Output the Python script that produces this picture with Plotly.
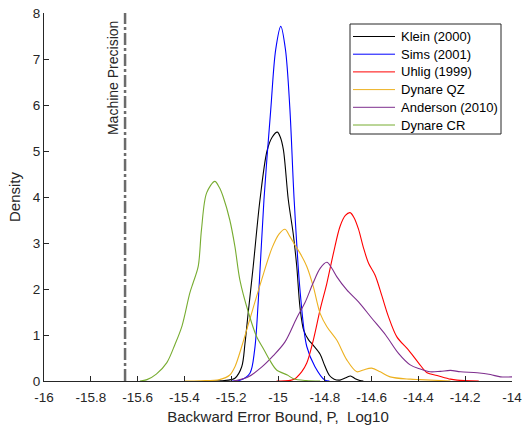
import plotly.graph_objects as go

# ---------------- data ----------------
machine_eps_log10 = -15.6536
density_range = [0, 8]

klein_x = [-15.28, -15.23, -15.20, -15.184, -15.155, -15.141, -15.127, -15.106, -15.077, -15.047,
           -15.025, -15.003, -14.99, -14.977, -14.956, -14.935, -14.92, -14.906, -14.89, -14.87,
           -14.85, -14.82, -14.80, -14.78, -14.76, -14.735, -14.71, -14.69, -14.67, -14.65, -14.635]
klein_y = [0, 0.01, 0.03, 0.06, 0.31, 0.82, 1.5, 2.49, 3.94, 5.0,
           5.3, 5.41, 5.3, 5.03, 3.94, 3.2, 2.5, 1.6, 1.1, 0.9,
           0.78, 0.58, 0.33, 0.12, 0.04, 0.02, 0.07, 0.11, 0.05, 0.01, 0]

sims_x = [-15.20, -15.16, -15.12, -15.10, -15.084, -15.06, -15.031, -15.01, -14.988, -14.968,
          -14.949, -14.931, -14.905, -14.877, -14.842, -14.80, -14.78]
sims_y = [0, 0.02, 0.17, 0.67, 1.76, 3.94, 5.9, 7.2, 7.71, 7.2,
          5.9, 3.94, 1.92, 0.75, 0.31, 0.02, 0]

uhlig_x = [-15.006, -14.934, -14.899, -14.877, -14.849, -14.82, -14.791, -14.763, -14.735, -14.712,
           -14.692, -14.675, -14.656, -14.635, -14.613, -14.585, -14.556, -14.528, -14.492, -14.442,
           -14.399, -14.363, -14.32, -14.263, -14.235, -14.142]
uhlig_y = [0, 0.03, 0.2, 0.39, 0.89, 1.55, 2.13, 2.78, 3.36, 3.6,
           3.66, 3.55, 3.3, 2.9, 2.56, 2.3, 1.85, 1.4, 0.96, 0.67,
           0.39, 0.18, 0.12, 0.04, 0.02, 0]

dynare_qz_x = [-15.40, -15.33, -15.25, -15.206, -15.184, -15.155, -15.12, -15.07, -15.025, -14.995,
               -14.97, -14.95, -14.927, -14.906, -14.877, -14.849, -14.82, -14.791, -14.749, -14.706,
               -14.663, -14.635, -14.60, -14.563, -14.521, -14.435, -14.392, -14.263]
dynare_qz_y = [0, 0.005, 0.03, 0.13, 0.31, 0.75, 1.35, 2.2, 2.9, 3.2,
               3.30, 3.15, 2.95, 2.78, 2.49, 2.05, 1.47, 1.18, 0.89, 0.46,
               0.2, 0.24, 0.28, 0.2, 0.09, 0.04, 0.03, 0]

anderson_x = [-15.19, -15.13, -15.07, -15.02, -14.97, -14.92, -14.885, -14.85, -14.82, -14.791,
              -14.77, -14.749, -14.706, -14.656, -14.60, -14.54, -14.485, -14.435, -14.392, -14.35,
              -14.306, -14.263, -14.22, -14.149, -14.092, -14.049, -14.0]
anderson_y = [0, 0.08, 0.3, 0.55, 0.85, 1.37, 1.7, 2.13, 2.45, 2.58,
              2.45, 2.27, 1.98, 1.72, 1.37, 1.0, 0.6, 0.35, 0.26, 0.2,
              0.21, 0.23, 0.2, 0.18, 0.14, 0.09, 0.09]

dynare_cr_x = [-15.59, -15.56, -15.52, -15.475, -15.44, -15.41, -15.377, -15.363, -15.341, -15.327,
               -15.305, -15.27, -15.25, -15.234, -15.206, -15.184, -15.163, -15.127, -15.091, -15.06,
               -15.035, -15.006, -14.96, -14.934, -14.88, -14.82]
dynare_cr_y = [0, 0.03, 0.15, 0.4, 0.8, 1.2, 1.91, 2.13, 2.49, 3.29,
               4.09, 4.34, 4.2, 4.0, 3.5, 2.92, 2.2, 1.5, 0.96, 0.68,
               0.45, 0.24, 0.13, 0.05, 0.01, 0]

series_names = ["Klein (2000)", "Sims (2001)", "Uhlig (1999)", "Dynare QZ", "Anderson (2010)", "Dynare CR"]
series_colors = ["#000000", "#0000FF", "#FF0000", "#EDB120", "#7E2F8E", "#77AC30"]
series_x = [klein_x, sims_x, uhlig_x, dynare_qz_x, anderson_x, dynare_cr_x]
series_y = [klein_y, sims_y, uhlig_y, dynare_qz_y, anderson_y, dynare_cr_y]

x_tick_vals = [-16, -15.8, -15.6, -15.4, -15.2, -15, -14.8, -14.6, -14.4, -14.2, -14]
x_tick_text = ["-16", "-15.8", "-15.6", "-15.4", "-15.2", "-15", "-14.8", "-14.6", "-14.4", "-14.2", "-14"]
y_tick_vals = [0, 1, 2, 3, 4, 5, 6, 7, 8]

# ---------------- layout constants ----------------
FONT = "Liberation Sans, Arial, sans-serif"
INK = "#262626"
W, H = 522, 432
ML, MR, MT, MB = 44, 10, 13, 51
PW, PH = W - ML - MR, H - MT - MB


def px_x(px):
    return (px - ML) / PW


def px_y(py):
    return (H - MB - py) / PH


fig = go.Figure()

fig.add_trace(go.Scatter(
    x=[machine_eps_log10, machine_eps_log10], y=density_range,
    mode="lines", line=dict(color="#6b6b6b", width=2.5, dash="12px,3px,3px,3px"),
    showlegend=False, hoverinfo="skip", cliponaxis=False))

for name, color, xs, ys in zip(series_names, series_colors, series_x, series_y):
    fig.add_trace(go.Scatter(
        x=xs, y=ys, name=name, mode="lines", showlegend=False,
        line=dict(color=color, width=1.1, shape="spline", smoothing=0.9)))

fig.add_annotation(
    x=machine_eps_log10, y=density_range[1], xref="x", yref="y",
    text="Machine Precision", textangle=-90, showarrow=False,
    xanchor="center", yanchor="top", xshift=-12, yshift=-6,
    font=dict(family=FONT, size=14, color=INK))

# ---- legend box (drawn like the MATLAB legend) ----
LEG_L, LEG_R, LEG_T, LEG_B = 350, 501, 24, 134
ROW0, ROW_STEP = 36.5, 17.7
shapes = [dict(type="rect", xref="paper", yref="paper",
               x0=px_x(LEG_L), x1=px_x(LEG_R), y0=px_y(LEG_B), y1=px_y(LEG_T),
               line=dict(color=INK, width=1), fillcolor="white", layer="above")]
for i, (name, color) in enumerate(zip(series_names, series_colors)):
    yy = ROW0 + i * ROW_STEP
    shapes.append(dict(type="line", xref="paper", yref="paper",
                       x0=px_x(353), x1=px_x(395), y0=px_y(yy), y1=px_y(yy),
                       line=dict(color=color, width=1), layer="above"))
    fig.add_annotation(x=px_x(399), y=px_y(yy), xref="paper", yref="paper",
                       text=name, showarrow=False, xanchor="left", yanchor="middle",
                       font=dict(family=FONT, size=13, color="#000000"))

fig.update_layout(
    width=W, height=H,
    margin=dict(l=ML, r=MR, t=MT, b=MB),
    paper_bgcolor="white", plot_bgcolor="white",
    font=dict(family=FONT, size=13.5, color=INK),
    showlegend=False,
    shapes=shapes,
    xaxis=dict(
        range=[-16, -14], tickvals=x_tick_vals, ticktext=x_tick_text,
        ticks="inside", ticklen=5, tickwidth=1, tickcolor=INK,
        ticklabelstandoff=4, ticklabeloverflow="allow",
        showline=True, linecolor=INK, linewidth=1,
        showgrid=False, zeroline=False, mirror=False, automargin=False,
        title=dict(text="Backward Error Bound, P,\u00a0 Log10", font=dict(size=15), standoff=7),
    ),
    yaxis=dict(
        range=[0, 8], tickvals=y_tick_vals,
        ticks="inside", ticklen=5, tickwidth=1, tickcolor=INK,
        showline=True, linecolor=INK, linewidth=1,
        showgrid=False, zeroline=False, mirror=False, automargin=False,
        title=dict(text="Density", font=dict(size=15), standoff=8),
    ),
)

fig.write_html("out.html", config={"displayModeBar": False},
               post_script="document.body.style.margin='0px';document.body.style.padding='0px';")
